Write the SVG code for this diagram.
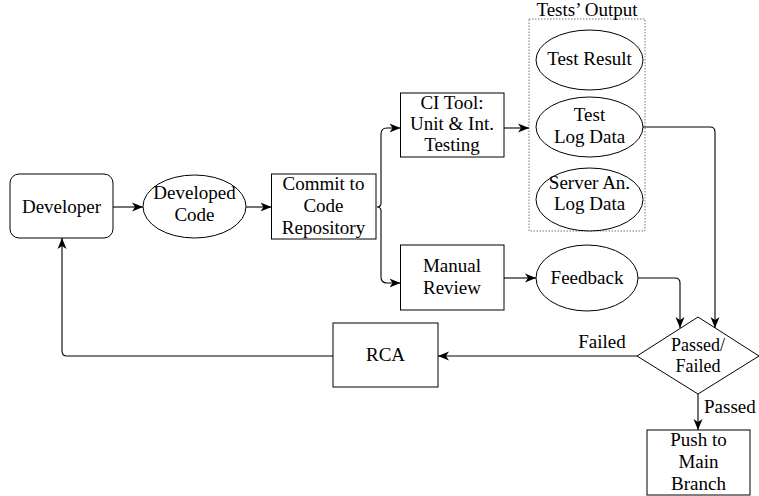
<svg xmlns="http://www.w3.org/2000/svg" width="759" height="496" viewBox="0 0 759 496">
<style>
.n{fill:#fff;stroke:#000;stroke-width:1}
.c{fill:none;stroke:#000;stroke-width:1.1}
.d{fill:none;stroke:#777;stroke-width:1;stroke-dasharray:1.5,1.5}
text{font-family:'Times New Roman','Liberation Serif',serif;font-size:19px;text-anchor:middle;fill:#000}
</style>
<defs>
<marker id="a" markerWidth="12" markerHeight="10" viewBox="0 0 12 10" refX="11" refY="5" orient="auto" markerUnits="userSpaceOnUse">
<path d="M0,0.5 L11,5 L0,9.5 L3,5 z" fill="#000"/>
</marker>
</defs>
<rect width="759" height="496" fill="#fff"/>
<g id="developer"><rect class="n" x="10" y="174" width="103" height="64" rx="9"/><text x="61.5" y="213">Developer</text></g>
<g id="developed-code"><ellipse class="n" cx="194.5" cy="206.5" rx="51.5" ry="31.5"/><text x="194.5" y="199">Developed</text><text x="194.5" y="221">Code</text></g>
<g id="commit"><rect class="n" x="271.5" y="174" width="104.5" height="65"/><text x="323.5" y="190">Commit to</text><text x="323.5" y="212">Code</text><text x="323.5" y="234">Repository</text></g>
<g id="ci-tool"><rect class="n" x="400.5" y="93" width="103.5" height="64"/><text x="452" y="109">CI Tool:</text><text x="452" y="130">Unit &amp; Int.</text><text x="452" y="151">Testing</text></g>
<g id="tests-output"><rect class="d" x="529" y="19" width="116" height="212"/><text x="587" y="16">Tests&#8217; Output</text></g>
<g id="test-result"><ellipse class="n" cx="589.5" cy="60" rx="53.5" ry="30"/><text x="589.5" y="65">Test Result</text></g>
<g id="test-log"><ellipse class="n" cx="589.5" cy="127" rx="53.5" ry="30"/><text x="589.5" y="121">Test</text><text x="589.5" y="143">Log Data</text></g>
<g id="server-log"><ellipse class="n" cx="589.5" cy="199.5" rx="53.5" ry="31.5"/><text x="589.5" y="189">Server An.</text><text x="589.5" y="210">Log Data</text></g>
<g id="manual-review"><rect class="n" x="400.5" y="245" width="103.5" height="65"/><text x="452" y="272">Manual</text><text x="452" y="294">Review</text></g>
<g id="feedback"><ellipse class="n" cx="587" cy="278" rx="51" ry="33"/><text x="587" y="284">Feedback</text></g>
<g id="decision"><polygon class="n" points="698,317 759,356 698,394 637,356"/><text x="698" y="351" style="font-size:18px">Passed/</text><text x="698" y="372" style="font-size:18px">Failed</text></g>
<g id="rca"><rect class="n" x="333" y="323" width="105" height="64"/><text x="385.5" y="361">RCA</text></g>
<g id="push"><rect class="n" x="647" y="430" width="103" height="65"/><text x="698.5" y="446">Push to</text><text x="698.5" y="468">Main</text><text x="698.5" y="490">Branch</text></g>
<g id="connectors">
<path class="c" d="M113,207 L143,207" marker-end="url(#a)"/>
<path class="c" d="M246,207 L271.5,207" marker-end="url(#a)"/>
<path class="c" d="M381,134 L381,203 Q381,207 377,207 Q381,207 381,211 L381,277"/>
<path class="c" d="M381,134 Q381,128 387,128 L400.5,128" marker-end="url(#a)"/>
<path class="c" d="M381,277 Q381,283 387,283 L400.5,283" marker-end="url(#a)"/>
<path class="c" d="M504,128 L529,128" marker-end="url(#a)"/>
<path class="c" d="M504,278 L536,278" marker-end="url(#a)"/>
<path class="c" d="M638,278 L675,278 Q680,278 680,283 L680,328" marker-end="url(#a)"/>
<path class="c" d="M643,127 L710,127 Q715,127 715,132 L715,328" marker-end="url(#a)"/>
<path class="c" d="M637,356 L438,356" marker-end="url(#a)"/>
<path class="c" d="M333,356 L67,356 Q62,356 62,351 L62,238" marker-end="url(#a)"/>
<path class="c" d="M698,394 L698,430" marker-end="url(#a)"/>
<text x="602" y="348">Failed</text>
<text x="704" y="413" style="text-anchor:start">Passed</text>
</g>
</svg>
